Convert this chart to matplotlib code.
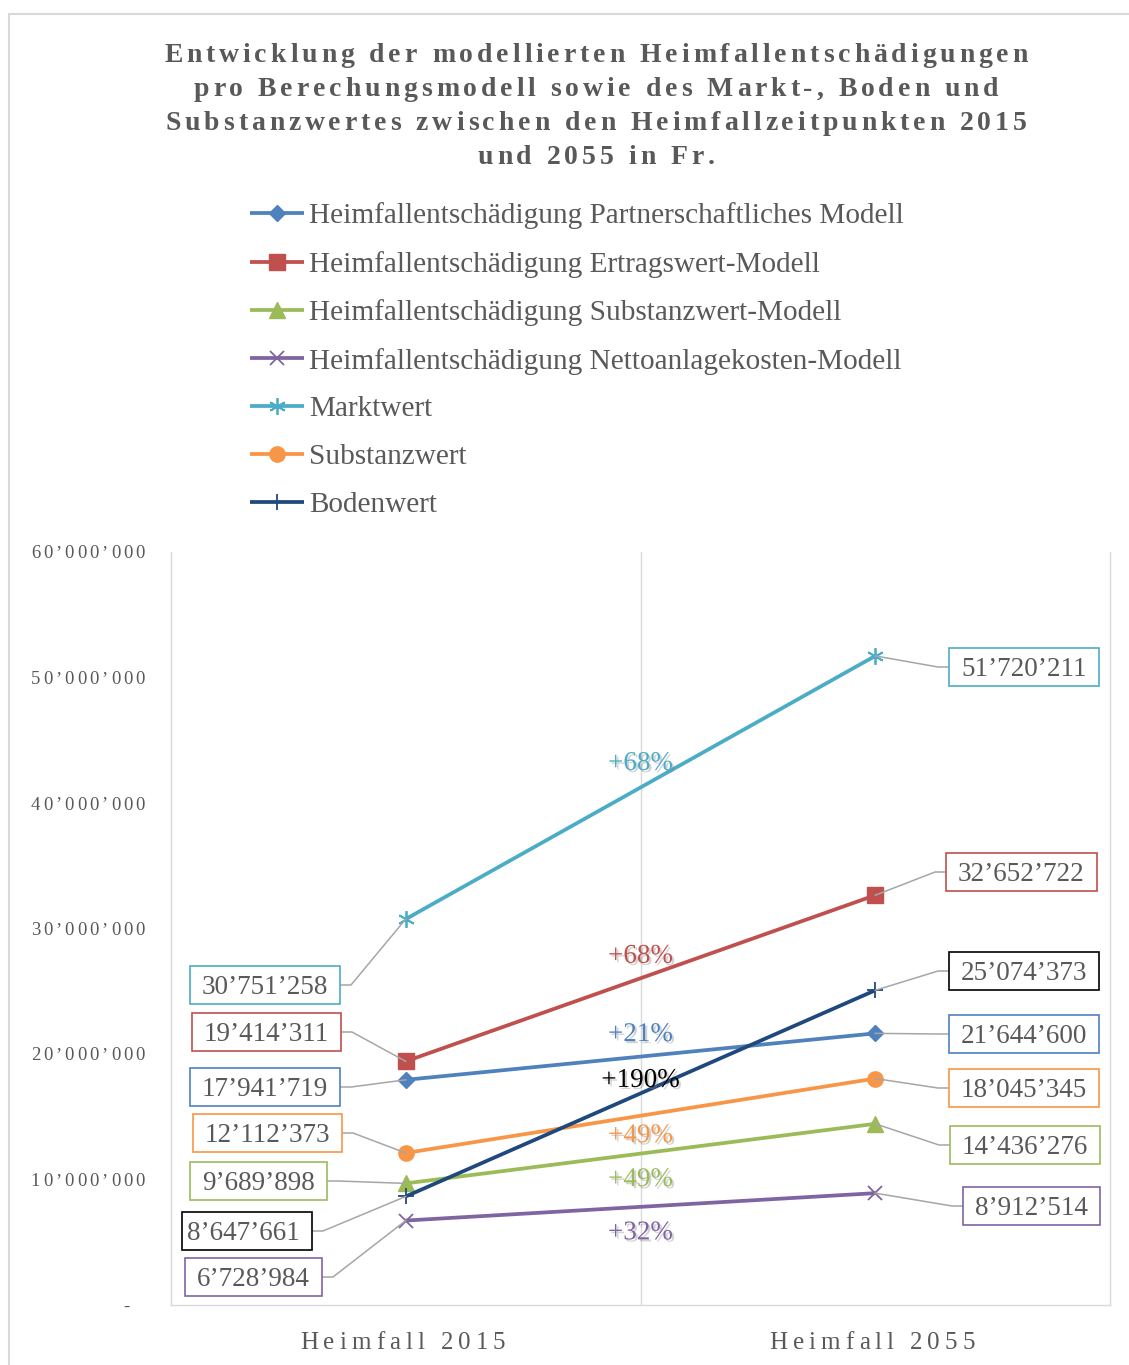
import matplotlib
matplotlib.use("Agg")
import matplotlib.pyplot as plt
import matplotlib.patheffects as pe
from matplotlib.font_manager import FontProperties
from matplotlib.lines import Line2D
from matplotlib.patches import Rectangle
from matplotlib.transforms import IdentityTransform
import numpy as np

# ---------------- Daten ----------------
kategorien = ["Heimfall 2015", "Heimfall 2055"]
reihen = [
    "Heimfallentschädigung Partnerschaftliches Modell",
    "Heimfallentschädigung Ertragswert-Modell",
    "Heimfallentschädigung Substanzwert-Modell",
    "Heimfallentschädigung Nettoanlagekosten-Modell",
    "Marktwert",
    "Substanzwert",
    "Bodenwert",
]
werte_2015 = [17941719, 19414311, 9689898, 6728984, 30751258, 12112373, 8647661]
werte_2055 = [21644600, 32652722, 14436276, 8912514, 51720211, 18045345, 25074373]
y_ticks = [0, 10000000, 20000000, 30000000, 40000000, 50000000, 60000000]

titel = ["Entwicklung der modellierten Heimfallentschädigungen",
         "pro Berechungsmodell sowie des Markt-, Boden und",
         "Substanzwertes zwischen den Heimfallzeitpunkten 2015",
         "und 2055 in Fr."]

# ---------------- Stil ----------------
farben = ["#4F81BD", "#C0504D", "#9BBB59", "#8064A2", "#4BACC6", "#F79646", "#1F497D"]
rahmen = ["#4F81BD", "#C0504D", "#9BBB59", "#8064A2", "#4BACC6", "#F79646", "#000000"]
marker = ["D", "s", "^", "x", (6, 2, 0), "o", "+"]
msize = [8.5, 11, 11, 10, 12, 11, 11]
TXT = "#595959"
GRID = "#D9D9D9"
SERIF = "Liberation Serif"

# Lage der Wertelabels (Pixel, von oben gemessen)
links_rechts = [340, 341, 327, 322, 340, 342, 312]
links_mitte = [1087, 1032, 1181, 1277, 985, 1133, 1231]
links_pad = [12, 12, 12, 12, 12, 12, 5]
rechts_links = [949, 946, 950, 963, 949, 949, 949]
rechts_mitte = [1034, 872, 1145, 1206, 667, 1088, 971]
pct_dy = [22, 22, -26, -26, 24, -20, 13]

W, H, DPI = 1129, 1365, 100
fig = plt.figure(figsize=(W / DPI, H / DPI), dpi=DPI)
fig.patch.set_facecolor("white")
ax = fig.add_axes([171 / W, 1 - 1305 / H, (1110 - 171) / W, (1305 - 552) / H])
ax.set_xlim(0.5, 2.5)
ax.set_ylim(0, 60000000)
ax.set_xticks([])
ax.set_yticks([])
for s in ["left", "right", "bottom"]:
    ax.spines[s].set_color(GRID)
    ax.spines[s].set_linewidth(1.0)
ax.spines["top"].set_visible(False)
ax.axvline(1.5, color=GRID, lw=1.0, zorder=0)

# Diagrammrahmen
fig.add_artist(Rectangle((9, -10), W + 20, H - 14 + 10, transform=IdentityTransform(),
                         fill=False, ec=GRID, lw=1.5))

x = np.array([1, 2])
linien = []
for i, name in enumerate(reihen):
    m = marker[i]
    offen = m in ("x", "+") or isinstance(m, tuple)
    ln, = ax.plot(x, [werte_2015[i], werte_2055[i]], color=farben[i], lw=2.7,
                  marker=m, ms=msize[i], mec=farben[i], mfc=farben[i],
                  mew=1.3 if offen else 1.0, label=name, zorder=3, solid_capstyle="butt")
    linien.append(ln)

renderer = fig.canvas.get_renderer()


def spaced_text(x0, y0, s, fp, spacing, ha="left", color=TXT):
    # Text mit Zeichenabstand, y0 = Grundlinie in Pixel (Anzeige)
    def breite(t):
        return renderer.get_text_width_height_descent(t, fp, ismath=False)[0]
    basis = breite("HH")
    adv = [breite("H" + c + "H") - basis for c in s]
    total = sum(adv) + spacing * (len(s) - 1)
    if ha == "center":
        x0 -= total / 2
    elif ha == "right":
        x0 -= total
    for c, a in zip(s, adv):
        fig.text(x0 / W, y0 / H, c, fontproperties=fp, color=color, ha="left", va="baseline")
        x0 += a + spacing


# Titel
fp_titel = FontProperties(family=SERIF, size=20, weight="bold")
for k, zeile in enumerate(titel):
    spaced_text(596, H - (62 + 34 * k), zeile, fp_titel, 3.9, ha="center")

# y-Achsenbeschriftung
fp_y = FontProperties(family=SERIF, size=13.5)
for t in y_ticks:
    _, yd = ax.transData.transform((0.5, t))
    lab = f"{t:,}".replace(",", "’") if t else "-  "
    spaced_text(145, yd - 6.5, lab, fp_y, 3.0, ha="right")

# x-Achsenbeschriftung
fp_x = FontProperties(family=SERIF, size=18)
for i, k in enumerate(kategorien):
    xd, _ = ax.transData.transform((i + 1, 0))
    spaced_text(xd - 3, H - 1349, k, fp_x, 5.0, ha="center")

# Wertelabels mit Führungslinien
fp_lab = FontProperties(family=SERIF, size=19.5)
PAD = 12
for i in range(len(reihen)):
    for j, v in enumerate([werte_2015[i], werte_2055[i]]):
        px, py = ax.transData.transform((j + 1, v))
        txt = f"{v:,}".replace(",", "’")
        if j == 0:
            kante = links_rechts[i]
            cy = H - links_mitte[i]
            t = fig.text((kante - PAD) / W, (cy - 9) / H, txt, fontproperties=fp_lab,
                         color=TXT, ha="right", va="baseline", zorder=6)
            lx = [kante, kante + 11, px]
            ly = [cy, cy, py]
            bb = t.get_window_extent(renderer)
            x0, breite = bb.x0 - links_pad[i], bb.width + links_pad[i] + PAD
        else:
            kante = rechts_links[i]
            cy = H - rechts_mitte[i]
            t = fig.text((kante + PAD) / W, (cy - 9) / H, txt, fontproperties=fp_lab,
                         color=TXT, ha="left", va="baseline", zorder=6)
            lx = [px, kante - 11, kante]
            ly = [py, cy, cy]
            bb = t.get_window_extent(renderer)
            x0, breite = bb.x0 - PAD, bb.width + 2 * PAD
        fig.add_artist(Line2D(lx, ly, transform=IdentityTransform(), color="#A6A6A6",
                              lw=1.1, zorder=4))
        fig.add_artist(Rectangle((x0, cy - 19), breite, 38,
                                 transform=IdentityTransform(), fc="white",
                                 ec=rahmen[i], lw=1.2, zorder=5))

# Veränderung in Prozent
schatten = [pe.SimplePatchShadow(offset=(1.5, -1.5), shadow_rgbFace="#7F7F7F", alpha=0.35),
            pe.Normal()]
for i in range(len(reihen)):
    p = round((werte_2055[i] / werte_2015[i] - 1) * 100)
    mitte = (werte_2015[i] + werte_2055[i]) / 2
    ax.annotate(f"+{p}%", xy=(1.5, mitte), xytext=(0, pct_dy[i]), textcoords="offset pixels",
                ha="center", va="center", fontproperties=fp_lab, color=rahmen[i],
                path_effects=schatten, zorder=6)

# Legende
fp_leg = FontProperties(family=SERIF, size=21.1)
fig.legend(handles=linien, loc="upper left", bbox_to_anchor=(250 / W, 1 - 202.5 / H),
           frameon=False, prop=fp_leg, labelcolor=TXT, handlelength=1.85,
           handletextpad=0.17, labelspacing=0.73, borderpad=0, borderaxespad=0,
           numpoints=1)

fig.savefig("out.png", dpi=DPI)
